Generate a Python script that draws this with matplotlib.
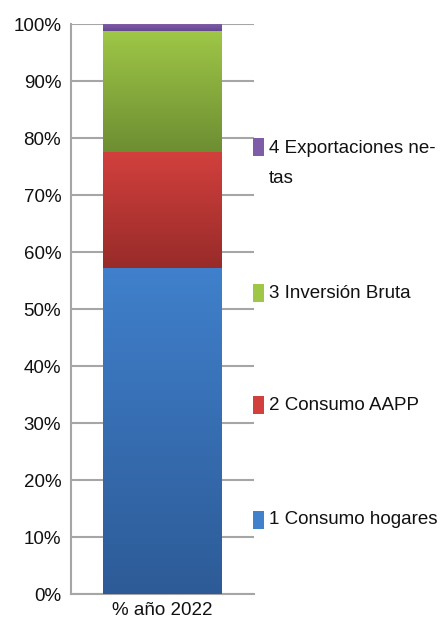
import numpy as np
import matplotlib
matplotlib.use("Agg")
import matplotlib.pyplot as plt
from matplotlib.colors import LinearSegmentedColormap
from matplotlib.patches import Rectangle

categories = ["% año 2022"]
series = ["1 Consumo hogares", "2 Consumo AAPP", "3 Inversión Bruta", "4 Exportaciones ne-\ntas"]
values = [57.2, 20.3, 21.3, 1.2]
yticks = [0, 10, 20, 30, 40, 50, 60, 70, 80, 90, 100]
ytick_labels = [f"{t}%" for t in yticks]

top_colors = ["#4080CC", "#D2403D", "#9FC747", "#7E5CA8"]
bot_colors = ["#2D5B97", "#982B29", "#6D8E32", "#654890"]

plt.rcParams['font.family'] = ['Liberation Sans', 'DejaVu Sans']

fig = plt.figure(figsize=(4.43, 6.32), dpi=100)
ax = fig.add_axes([0.160, 0.060, 0.413, 0.902])

bottom = 0
grad = np.linspace(0, 1, 256).reshape(-1, 1)
for i, (name, v) in enumerate(zip(series, values)):
    bars = ax.bar(0, v, width=0.65, bottom=bottom, color=top_colors[i], zorder=3, linewidth=0)
    p = bars.patches[0]
    cmap = LinearSegmentedColormap.from_list("g", [bot_colors[i], top_colors[i]])
    x0, y0 = p.get_x(), p.get_y()
    im = ax.imshow(grad, cmap=cmap, origin="lower", aspect="auto",
                   extent=[x0, x0 + p.get_width(), y0, y0 + p.get_height()], zorder=4)
    im.set_clip_path(p)
    bottom += v

ax.set_xlim(-0.5, 0.5)
ax.set_ylim(0, 100)
ax.set_yticks(yticks)
ax.set_yticklabels(ytick_labels, fontsize=13.5, color="#111111")
ax.set_xticks([0])
ax.set_xticklabels(categories, fontsize=13.5, color="#111111")
ax.tick_params(axis="both", length=0, pad=7)
ax.tick_params(axis="x", pad=6)
ax.grid(axis="y", color="#A6A6A6", linewidth=1.5, zorder=0)
for s in ["top", "right"]:
    ax.spines[s].set_visible(False)
for s in ["left", "bottom"]:
    ax.spines[s].set_color("#A6A6A6")
    ax.spines[s].set_linewidth(1.5)

# legend (manual, in figure pixels)
leg_y = [520, 405, 293, 147]
for i, name in enumerate(series):
    yc = 632 - leg_y[i]
    fig.patches.append(Rectangle((253 / 443, (yc - 9) / 632), 11 / 443, 18 / 632,
                                 transform=fig.transFigure, facecolor=top_colors[i],
                                 edgecolor="none"))
    if "\n" in name:
        fig.text(269 / 443, (yc + 7) / 632, name, fontsize=13.5, color="#111111",
                 va="top", ha="left", linespacing=2.0)
    else:
        fig.text(269 / 443, yc / 632, name, fontsize=13.5, color="#111111",
                 va="center", ha="left")

fig.savefig("out.png", dpi=100)
